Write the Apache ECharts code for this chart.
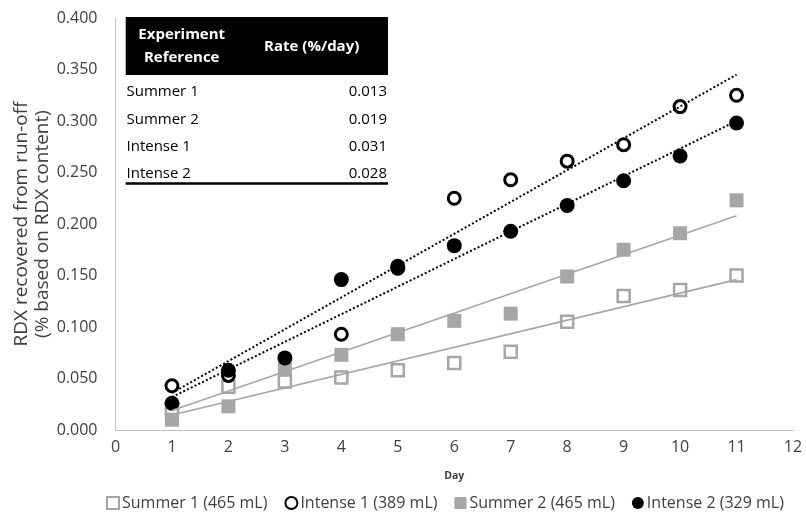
<!DOCTYPE html>
<html>
<head>
<meta charset="utf-8">
<script src="https://cdn.jsdelivr.net/npm/echarts@6/dist/echarts.min.js"></script>
<style>html,body{margin:0;padding:0;background:#fff;}#c{width:806px;height:516px;}</style>
</head>
<body>
<div id="c"></div>
<script>
// ---- data ----
const days = [1, 2, 3, 4, 5, 6, 7, 8, 9, 10, 11];
const seriesNames = ['Summer 1 (465 mL)', 'Intense 1 (389 mL)', 'Summer 2 (465 mL)', 'Intense 2 (329 mL)'];
const summer1 = [0.019, 0.042, 0.047, 0.051, 0.058, 0.065, 0.076, 0.105, 0.130, 0.136, 0.150];
const intense1 = [0.043, 0.053, null, 0.093, 0.159, 0.225, 0.243, 0.261, 0.277, 0.314, 0.325];
const summer2 = [0.010, 0.023, 0.059, 0.073, 0.093, 0.106, 0.113, 0.149, 0.175, 0.191, 0.223];
const intense2 = [0.026, 0.058, 0.070, 0.146, 0.157, 0.179, 0.193, 0.218, 0.242, 0.266, 0.298];
// linear trendlines (start / end at day 1 and day 11)
const trendDays = [1, 11];
const summer1Trend = [0.0146, 0.146];
const summer2Trend = [0.019, 0.208];
const intense1Trend = [0.036, 0.345];
const intense2Trend = [0.032, 0.300];
// table
const tableHeader = ['Experiment\nReference', 'Rate (%/day)'];
const tableNames = ['Summer 1', 'Summer 2', 'Intense 1', 'Intense 2'];
const tableRates = ['0.013', '0.019', '0.031', '0.028'];
const yTitle = ['RDX recovered from run-off', '(% based on RDX content)'];
const xTitle = 'Day';

const FONT = '"Open Sans", sans-serif';
const TXT = '#404040';
const GRAY = '#a6a6a6';

function pts(vals) { return days.map((d, i) => [d, vals[i]]); }
function tpts(vals) { return trendDays.map((d, i) => [d, vals[i]]); }

const chart = echarts.init(document.getElementById('c'), null, {renderer: 'canvas'});

// table graphic
const L = 125.7, R = 388;
const g = [];
g.push({type: 'rect', shape: {x: L, y: 17, width: R - L, height: 58}, style: {fill: '#000'}, z: 100});
g.push({type: 'text', x: 181.7, y: 46.5, style: {text: tableHeader[0], fill: '#fff', font: 'bold 15px ' + FONT, align: 'center', verticalAlign: 'middle', lineHeight: 23}, z: 101});
g.push({type: 'text', x: 311.7, y: 46.7, style: {text: tableHeader[1], fill: '#fff', font: 'bold 15px ' + FONT, align: 'center', verticalAlign: 'middle'}, z: 101});
const rowY = [91.7, 119.3, 146.7, 173.3];
tableNames.forEach((n, i) => {
  g.push({type: 'text', x: 126.5, y: rowY[i], style: {text: n, fill: '#000', font: '15px ' + FONT, align: 'left', verticalAlign: 'middle'}, z: 101});
  g.push({type: 'text', x: 387, y: rowY[i], style: {text: tableRates[i], fill: '#000', font: '15px ' + FONT, align: 'right', verticalAlign: 'middle'}, z: 101});
});
g.push({type: 'line', shape: {x1: L, y1: 183.5, x2: R, y2: 183.5}, style: {stroke: '#000', lineWidth: 2.5}, z: 101});
// y axis title
g.push({type: 'text', x: 32.5, y: 224, rotation: Math.PI / 2, style: {text: yTitle.join('\n'), fill: TXT, font: '19px ' + FONT, align: 'center', verticalAlign: 'middle', lineHeight: 21}, z: 50});

const scatterBase = {type: 'scatter', emphasis: {disabled: true}, silent: true};
const lineBase = {type: 'line', symbol: 'none', silent: true, emphasis: {disabled: true}, z: 5};

chart.setOption({
  animation: false,
  backgroundColor: '#fff',
  textStyle: {fontFamily: FONT},
  grid: {left: 115.5, right: 13, top: 18, bottom: 86, containLabel: false},
  xAxis: {
    type: 'value', min: 0, max: 12, interval: 1,
    name: xTitle, nameLocation: 'middle', nameGap: 41,
    nameTextStyle: {fontFamily: FONT, fontWeight: 'bold', fontSize: 10.5, color: TXT},
    axisLine: {show: true, lineStyle: {color: '#bfbfbf', width: 1}},
    axisTick: {show: false},
    splitLine: {show: false},
    axisLabel: {fontFamily: FONT, fontSize: 16, color: TXT, margin: 9}
  },
  yAxis: {
    type: 'value', min: 0, max: 0.4, interval: 0.05,
    axisLine: {show: true, lineStyle: {color: '#bfbfbf', width: 1}},
    axisTick: {show: false},
    splitLine: {show: false},
    axisLabel: {fontFamily: FONT, fontSize: 16, color: TXT, margin: 18, formatter: v => v.toFixed(3)}
  },
  legend: {
    data: seriesNames,
    left: 101, top: 490,
    itemWidth: 12, itemHeight: 12, itemGap: 17,
    textStyle: {fontFamily: FONT, fontSize: 16, color: TXT, padding: [0, 0, 0, -2]},
    selectedMode: false
  },
  graphic: g,
  series: [
    Object.assign({}, scatterBase, {name: seriesNames[0], data: pts(summer1), symbol: 'rect', symbolSize: 12,
      itemStyle: {color: '#fff', borderColor: GRAY, borderWidth: 2.5, opacity: 1}, z: 2}),
    Object.assign({}, scatterBase, {name: seriesNames[1], data: pts(intense1), symbol: 'circle', symbolSize: 12,
      itemStyle: {color: '#fff', borderColor: '#000', borderWidth: 3, opacity: 1}, z: 2}),
    Object.assign({}, scatterBase, {name: seriesNames[2], data: pts(summer2), symbol: 'rect', symbolSize: 14,
      itemStyle: {color: GRAY, opacity: 1}, z: 2}),
    Object.assign({}, scatterBase, {name: seriesNames[3], data: pts(intense2), symbol: 'circle', symbolSize: 15,
      itemStyle: {color: '#000', opacity: 1}, z: 2}),
    Object.assign({}, lineBase, {name: 'trend s1', data: tpts(summer1Trend), lineStyle: {color: GRAY, width: 1.6}}),
    Object.assign({}, lineBase, {name: 'trend s2', data: tpts(summer2Trend), lineStyle: {color: GRAY, width: 1.6}}),
    Object.assign({}, lineBase, {name: 'trend i1', data: tpts(intense1Trend), lineStyle: {color: '#000', width: 2, type: [2, 2.2]}}),
    Object.assign({}, lineBase, {name: 'trend i2', data: tpts(intense2Trend), lineStyle: {color: '#000', width: 2, type: [2, 2.2]}})
  ]
});
</script>
</body>
</html>
